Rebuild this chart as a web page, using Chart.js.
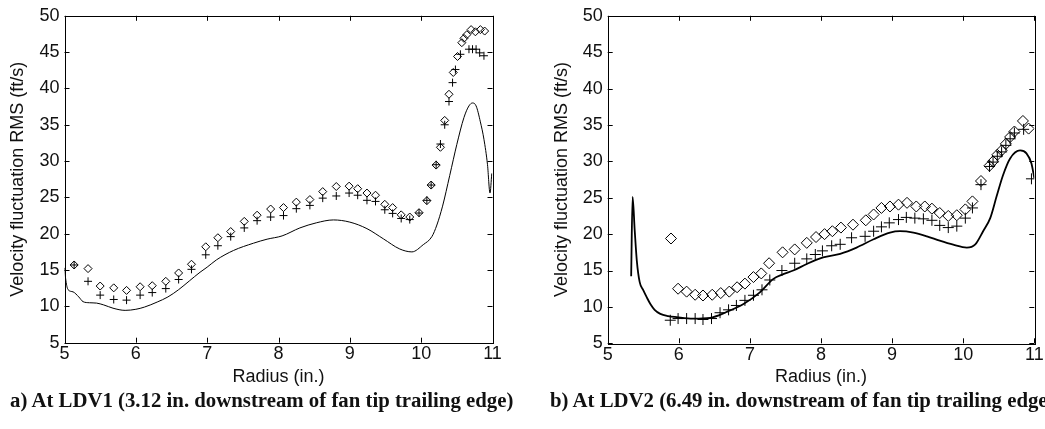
<!DOCTYPE html>
<html>
<head>
<meta charset="utf-8">
<script src="https://cdn.jsdelivr.net/npm/chart.js@4.4.1/dist/chart.umd.min.js"></script>
<style>
  html, body { margin: 0; padding: 0; background: #fff; width: 1045px; height: 429px; overflow: hidden; }
  .panel { position: absolute; top: 0; height: 390px; }
  #panelA { left: 0; width: 520px; }
  #panelB { left: 520px; width: 525px; }
  .caption { position: absolute; top: 389px; font: bold 20.8px/21px "Liberation Serif", "Times New Roman", serif; white-space: nowrap; color: #111; }
  #capA { left: 10px; }
  #capB { left: 550px; }
</style>
</head>
<body>
<div class="panel" id="panelA"><canvas id="chartA"></canvas></div>
<div class="panel" id="panelB"><canvas id="chartB"></canvas></div>
<div class="caption" id="capA">a) At LDV1 (3.12 in. downstream of fan tip trailing edge)</div>
<div class="caption" id="capB">b) At LDV2 (6.49 in. downstream of fan tip trailing edge)</div>
<script>
'use strict';

// axis ticks
var radiusTicks = [5, 6, 7, 8, 9, 10, 11];
var rmsTicks = [5, 10, 15, 20, 25, 30, 35, 40, 45, 50];

// LDV1 - diamonds
var ldv1DiamondR = [5.135,5.33,5.5,5.69,5.87,6.06,6.23,6.42,6.6,6.78,6.98,7.15,7.33,7.52,7.70,7.89,8.07,8.25,8.44,8.62,8.81,8.99,9.11,9.24,9.36,9.49,9.6,9.72,9.84,9.97,10.08,10.14,10.21,10.27,10.33,10.39,10.45,10.51,10.57,10.6,10.64,10.7,10.76,10.83,10.89];
var ldv1DiamondV = [15.7,15.2,12.8,12.55,12.2,12.7,12.85,13.45,14.6,15.8,18.2,19.45,20.3,21.7,22.55,23.4,23.6,24.35,24.7,25.8,26.5,26.55,26.2,25.6,25.3,24.05,23.6,22.6,22.3,22.9,24.55,26.7,29.45,31.9,35.6,39.2,42.2,44.4,46.3,46.9,47.4,48.1,47.8,48.1,47.9];
// LDV1 - crosses
var ldv1CrossR = [5.135,5.33,5.5,5.69,5.87,6.06,6.23,6.42,6.6,6.78,6.98,7.15,7.33,7.52,7.70,7.89,8.07,8.25,8.44,8.62,8.81,8.99,9.11,9.24,9.36,9.49,9.6,9.72,9.84,9.97,10.08,10.14,10.21,10.27,10.33,10.39,10.44,10.48,10.55,10.67,10.72,10.77,10.82,10.88];
var ldv1CrossV = [15.7,13.45,11.55,10.95,10.86,11.55,11.9,12.45,13.7,15.1,17.1,18.35,19.6,20.8,21.8,22.3,22.5,23.45,23.9,24.9,25.2,25.6,25.3,24.6,24.45,23.3,22.8,22.1,21.95,22.85,24.6,26.7,29.5,32.35,35.0,38.2,40.8,42.6,44.7,45.4,45.4,45.4,44.9,44.5];
// LDV1 - solid curve
var ldv1LineR = [5.0,5.02,5.05,5.12,5.2,5.26,5.35,5.45,5.55,5.68,5.85,6.0,6.12,6.3,6.45,6.6,6.75,6.9,7.0,7.13,7.37,7.65,7.84,8.05,8.3,8.53,8.77,9.0,9.24,9.47,9.7,9.87,10.03,10.15,10.22,10.3,10.4,10.5,10.6,10.67,10.72,10.77,10.83,10.88,10.93,10.965,10.99];
var ldv1LineV = [15.3,13.5,12.3,12.0,11.3,10.65,10.5,10.45,10.2,9.75,9.45,9.6,9.9,10.6,11.3,12.3,13.5,14.7,15.4,16.4,17.7,18.7,19.25,19.7,20.8,21.5,21.9,21.6,20.7,19.3,17.9,17.5,18.5,19.6,21.2,23.8,28.0,32.3,36.0,37.6,38.0,37.6,35.4,33.0,29.5,25.6,28.3];

// LDV2 - diamonds
var ldv2DiamondR = [5.89,5.99,6.11,6.23,6.34,6.47,6.59,6.71,6.82,6.93,7.05,7.16,7.27,7.46,7.63,7.8,7.93,8.05,8.16,8.28,8.45,8.63,8.74,8.85,8.97,9.09,9.21,9.34,9.46,9.56,9.67,9.79,9.91,10.03,10.13,10.25,10.37,10.42,10.48,10.54,10.6,10.66,10.72,10.84,10.92];
var ldv2DiamondV = [19.4,12.5,12.1,11.67,11.57,11.67,11.9,12.1,12.7,13.2,14.1,14.6,16.0,17.5,17.9,18.8,19.6,20.0,20.4,20.9,21.3,21.9,22.7,23.6,23.8,24.05,24.3,23.8,23.8,23.5,22.9,22.5,22.6,23.4,24.5,27.3,29.4,30.0,30.9,31.5,32.4,33.35,34.1,35.55,34.5];
// LDV2 - crosses
var ldv2CrossR = [5.88,5.99,6.11,6.23,6.34,6.46,6.58,6.7,6.81,6.93,7.05,7.17,7.28,7.45,7.63,7.8,7.92,8.02,8.15,8.27,8.43,8.62,8.74,8.85,8.96,9.09,9.2,9.32,9.44,9.56,9.67,9.79,9.91,10.03,10.13,10.25,10.37,10.42,10.48,10.54,10.6,10.66,10.72,10.85,10.96];
var ldv2CrossV = [8.17,8.4,8.4,8.4,8.27,8.4,9.2,9.6,10.2,10.9,11.6,12.35,13.7,15.0,16.0,16.6,17.2,17.7,18.4,18.6,19.5,19.7,20.4,21.0,21.55,22.0,22.3,22.2,22.1,21.9,21.2,20.9,21.1,22.2,23.6,26.8,29.3,29.9,30.7,31.3,32.2,33.1,33.9,34.4,27.6];
// LDV2 - solid curve
var ldv2LineR = [5.33,5.35,5.38,5.41,5.45,5.5,5.55,5.6,5.66,5.74,5.85,5.97,6.2,6.44,6.67,6.91,7.14,7.33,7.47,7.61,7.8,8.03,8.27,8.5,8.74,8.97,9.11,9.3,9.49,9.67,9.86,10.05,10.17,10.28,10.38,10.47,10.56,10.66,10.8,10.89,10.96,11.0];
var ldv2LineV = [14.2,25.1,20.5,16.3,13.4,12.3,11.3,10.4,9.6,9.05,8.75,8.6,8.4,8.5,9.3,10.4,12.0,13.85,14.5,15.0,15.9,16.8,17.3,18.15,19.3,20.2,20.4,20.2,19.7,19.1,18.55,18.15,18.6,20.4,22.2,25.2,28.1,30.4,31.5,31.1,29.7,27.7];

var sansFont = 'Liberation Sans, Arial, Helvetica, sans-serif';
var inkColor = '#111';

function pairUp(rs, vs) {
  var out = [];
  for (var i = 0; i < rs.length; i++) {
    out.push({x: rs[i], y: vs[i]});
  }
  return out;
}

// box round the plot area with short ticks pointing inwards on all four sides
var boxFrame = {
  id: 'boxFrame',
  afterDraw: function(chart) {
    var ctx = chart.ctx;
    var a = chart.chartArea;
    var xs = chart.scales.x;
    var ys = chart.scales.y;
    var len = 5;
    ctx.save();
    ctx.strokeStyle = '#000';
    ctx.lineWidth = 1;
    ctx.strokeRect(Math.round(a.left) + 0.5, Math.round(a.top) + 0.5, Math.round(a.right - a.left), Math.round(a.bottom - a.top));
    ctx.beginPath();
    xs.ticks.forEach(function(t) {
      var px = Math.round(xs.getPixelForValue(t.value)) + 0.5;
      ctx.moveTo(px, a.bottom); ctx.lineTo(px, a.bottom - len);
      ctx.moveTo(px, a.top); ctx.lineTo(px, a.top + len);
    });
    ys.ticks.forEach(function(t) {
      var py = Math.round(ys.getPixelForValue(t.value)) + 0.5;
      ctx.moveTo(a.left, py); ctx.lineTo(a.left + len, py);
      ctx.moveTo(a.right, py); ctx.lineTo(a.right - len, py);
    });
    ctx.stroke();
    ctx.restore();
  }
};

function makeChart(canvasId, opts) {
  return new Chart(document.getElementById(canvasId), {
    type: 'scatter',
    data: {
      datasets: [{
        label: 'measured (diamond)',
        data: pairUp(opts.diamondR, opts.diamondV),
        pointStyle: 'rectRot',
        pointRadius: opts.diamondSize,
        pointBorderColor: '#000',
        pointBackgroundColor: 'rgba(0,0,0,0)',
        pointBorderWidth: 1
      }, {
        label: 'measured (cross)',
        data: pairUp(opts.crossR, opts.crossV),
        pointStyle: 'cross',
        pointRadius: opts.crossSize,
        pointBorderColor: '#000',
        pointBorderWidth: 1
      }, {
        label: 'prediction',
        data: pairUp(opts.lineR, opts.lineV),
        showLine: true,
        pointRadius: 0,
        borderColor: '#000',
        borderWidth: opts.lineWidth,
        cubicInterpolationMode: 'monotone'
      }]
    },
    options: {
      responsive: true,
      maintainAspectRatio: false,
      animation: false,
      layout: { padding: { top: opts.padTop, right: opts.padRight, left: 0, bottom: 0 } },
      plugins: { legend: { display: false }, tooltip: { enabled: false } },
      scales: {
        x: {
          type: 'linear', min: 5, max: 11,
          afterBuildTicks: function(s) { s.ticks = radiusTicks.map(function(v) { return {value: v}; }); },
          afterFit: function(s) { s.height = opts.xHeight; },
          grid: { display: false, drawTicks: false },
          border: { display: false },
          ticks: { color: inkColor, font: { family: sansFont, size: 18 }, padding: 1, maxRotation: 0, autoSkip: false },
          title: { display: true, text: 'Radius (in.)', color: inkColor, font: { family: sansFont, size: 18 }, padding: { top: 0, bottom: 2 } }
        },
        y: {
          type: 'linear', min: 5, max: 50,
          afterBuildTicks: function(s) { s.ticks = rmsTicks.map(function(v) { return {value: v}; }); },
          afterFit: function(s) { s.width = opts.yWidth; },
          grid: { display: false, drawTicks: false },
          border: { display: false },
          ticks: { color: inkColor, font: { family: sansFont, size: 18 }, padding: 5, autoSkip: false },
          title: { display: true, text: 'Velocity fluctuation RMS (ft/s)', color: inkColor, font: { family: sansFont, size: 18 }, padding: { top: opts.yTitlePad, bottom: 0 } }
        }
      }
    },
    plugins: [boxFrame]
  });
}

makeChart('chartA', {
  diamondR: ldv1DiamondR, diamondV: ldv1DiamondV,
  crossR: ldv1CrossR, crossV: ldv1CrossV,
  lineR: ldv1LineR, lineV: ldv1LineV,
  diamondSize: 4, crossSize: 4, lineWidth: 1,
  padTop: 13, padRight: 27.5, xHeight: 47.3, yWidth: 64.5, yTitlePad: 7
});

makeChart('chartB', {
  diamondR: ldv2DiamondR, diamondV: ldv2DiamondV,
  crossR: ldv2CrossR, crossV: ldv2CrossV,
  lineR: ldv2LineR, lineV: ldv2LineV,
  diamondSize: 5.5, crossSize: 5.5, lineWidth: 1.8,
  padTop: 12.7, padRight: 10.7, xHeight: 46.7, yWidth: 87.7, yTitlePad: 31
});
</script>
</body>
</html>
